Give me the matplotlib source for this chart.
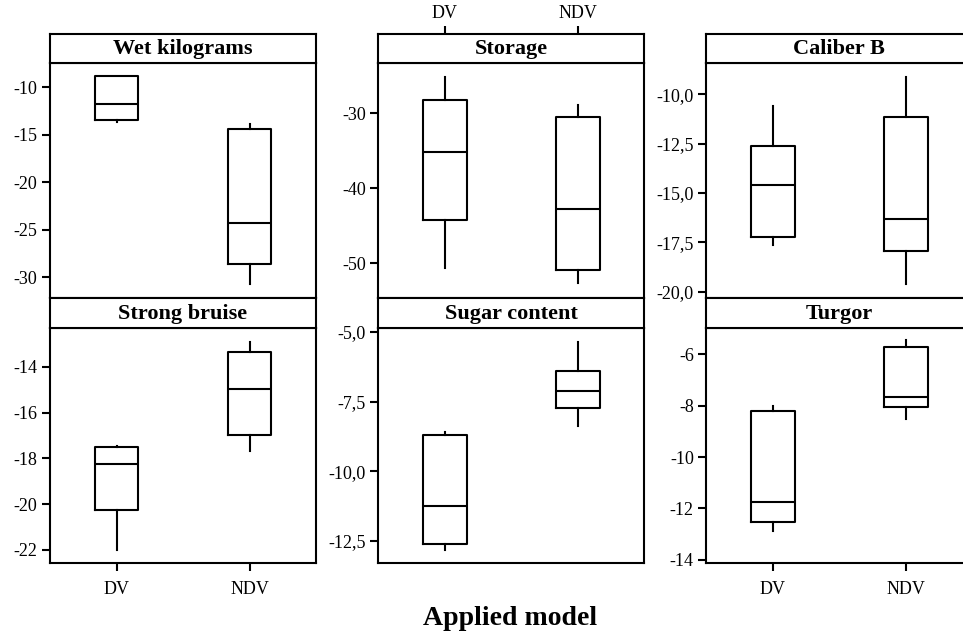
import matplotlib
matplotlib.use("Agg")
import matplotlib.pyplot as plt
from matplotlib.ticker import FixedLocator, FuncFormatter

plt.rcParams['font.family'] = ['Liberation Serif', 'DejaVu Serif']

groups = ["DV", "NDV"]
panels = ["Wet kilograms", "Storage", "Caliber B",
          "Strong bruise", "Sugar content", "Turgor"]

# per panel, per group: [whislo, q1, med, q3, whishi]
wet_kg = [[-13.7, -13.46, -11.77, -8.77, -8.75],
          [-30.7, -28.6, -24.27, -14.44, -13.9]]
storage = [[-50.66, -44.27, -35.19, -28.23, -25.12],
           [-52.65, -50.89, -42.8, -30.49, -28.84]]
caliber_b = [[-17.63, -17.25, -14.61, -12.64, -10.59],
             [-19.61, -17.92, -16.34, -11.15, -9.1]]
strong_bruise = [[-22.0, -20.25, -18.24, -17.5, -17.46],
                 [-17.66, -17.0, -14.97, -13.36, -12.91]]
sugar = [[-12.83, -12.63, -11.25, -8.72, -8.61],
         [-8.39, -7.73, -7.13, -6.40, -5.36]]
turgor = [[-12.88, -12.53, -11.74, -8.22, -8.02],
          [-8.50, -8.07, -7.67, -5.73, -5.46]]

data = [wet_kg, storage, caliber_b, strong_bruise, sugar, turgor]
yticks = [[-10, -15, -20, -25, -30], [-30, -40, -50], [-10, -12.5, -15, -17.5, -20],
          [-14, -16, -18, -20, -22], [-5, -7.5, -10, -12.5], [-6, -8, -10, -12, -14]]
ylims = [(-32.15, -7.43), (-54.57, -23.26), (-20.3, -8.41),
         (-22.57, -12.31), (-13.3, -4.86), (-14.12, -4.98)]
decimals = [0, 0, 1, 0, 1, 0]

W, H = 963, 633
fig = plt.figure(figsize=(W / 100, H / 100), dpi=100)

col_x = [50, 378.3, 706.3]
pw = 266
rows = [(34, 63, 297.5), (298, 328, 563)]
tfs = 13

for i, name in enumerate(panels):
    r, c = divmod(i, 3)
    st, sb, pb = rows[r]
    x0 = col_x[c]
    ax = fig.add_axes([x0 / W, 1 - pb / H, pw / W, (pb - sb) / H])
    sax = fig.add_axes([x0 / W, 1 - sb / H, pw / W, (sb - st) / H])
    sax.set_xlim(-0.5, 1.5)
    sax.set_yticks([])
    if c == 1 and r == 0:
        # category ticks sit on top of the strip in the middle column
        sax.set_xticks([0, 1])
        sax.set_xticklabels(groups)
        sax.xaxis.tick_top()
        sax.tick_params(axis="x", direction="out", length=6, width=1.5,
                        labelsize=tfs, pad=3)
    else:
        sax.set_xticks([])
    sax.text(0.5, 0.47, name, ha="center", va="center", fontsize=16,
             fontweight="bold", transform=sax.transAxes)
    for s in sax.spines.values():
        s.set_linewidth(1.5)

    stats = []
    for g, vals in zip(groups, data[i]):
        stats.append(dict(label=g, whislo=vals[0], q1=vals[1], med=vals[2],
                          q3=vals[3], whishi=vals[4], fliers=[]))
    ax.bxp(stats, positions=[0, 1], widths=0.33, showfliers=False, showcaps=False,
           boxprops=dict(color="black", linewidth=1.5),
           whiskerprops=dict(color="black", linewidth=1.5),
           medianprops=dict(color="black", linewidth=1.5))
    ax.set_xlim(-0.5, 1.5)
    ax.set_ylim(*ylims[i])
    ax.yaxis.set_major_locator(FixedLocator(yticks[i]))
    d = decimals[i]
    ax.yaxis.set_major_formatter(FuncFormatter(
        lambda v, p, d=d: (f"{v:.{d}f}").replace(".", ",")))
    for s in ax.spines.values():
        s.set_linewidth(1.5)
    ax.tick_params(axis="y", direction="out", length=6, width=1.5, labelsize=tfs, pad=3)
    ax.set_xticks([0, 1])
    ax.set_xticklabels(groups)
    ax.tick_params(axis="x", direction="out", length=6, width=1.5, labelsize=tfs, pad=7)
    if not (r == 1 and c != 1):
        ax.tick_params(axis="x", bottom=False, labelbottom=False)

fig.text(510 / W, 1 - 625 / H, "Applied model", ha="center", va="baseline",
         fontsize=20, fontweight="bold")

fig.savefig("out.png", dpi=100)
